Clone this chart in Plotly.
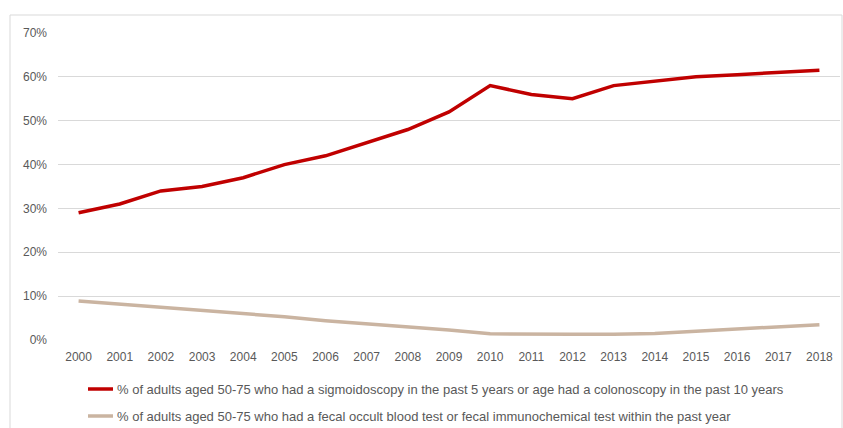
import plotly.graph_objects as go

years = [str(y) for y in range(2000, 2019)]
colonoscopy = [29, 31, 34, 35, 37, 40, 42, 45, 48, 52, 58, 56, 55, 58, 59, 60, 60.5, 61, 61.5]
fobt = [8.9, 8.2, 7.5, 6.7, 6.0, 5.3, 4.4, 3.7, 3.0, 2.3, 1.4, 1.3, 1.3, 1.3, 1.5, 2.0, 2.5, 3.0, 3.5]
tick_vals = [0, 10, 20, 30, 40, 50, 60, 70]
tick_text = [f"{v}%" for v in tick_vals]
names = [
    "% of adults aged 50-75 who had a sigmoidoscopy in the past 5 years or age had a colonoscopy in the past 10 years",
    "% of adults aged 50-75 who had a fecal occult blood test or fecal immunochemical test within the past year",
]
colors = ["#C00000", "#CAB4A1"]
series = [colonoscopy, fobt]

W, H = 843, 428
L, R, T, B = 58, 3, 33, 88

fig = go.Figure()
for name, vals, col in zip(names, series, colors):
    fig.add_trace(go.Scatter(x=years, y=vals, mode="lines", name=name,
                             line=dict(color=col, width=3.5), showlegend=False))

pw = W - L - R
ph = H - T - B
def px(x): return (x - L) / pw
def py(y): return (H - B - y) / ph

fig.add_shape(type="rect", xref="paper", yref="paper", x0=px(10), x1=px(842), y0=py(440), y1=py(15),
              line=dict(color="#D9D9D9", width=1), fillcolor="rgba(0,0,0,0)", layer="below")

# manual legend
legend_y = [389, 416]
for name, col, yy in zip(names, colors, legend_y):
    fig.add_shape(type="line", xref="paper", yref="paper", x0=px(88), x1=px(113),
                  y0=py(yy), y1=py(yy), line=dict(color=col, width=3.5))
    fig.add_annotation(xref="paper", yref="paper", x=px(115), y=py(yy), xanchor="left",
                       yanchor="middle", text=name, showarrow=False,
                       font=dict(size=13, color="#595959"))

font = "Liberation Sans, Arial, sans-serif"
fig.update_layout(
    width=W, height=H,
    margin=dict(l=L, r=R, t=T, b=B),
    plot_bgcolor="white", paper_bgcolor="white",
    font=dict(family=font, size=12, color="#595959"),
    xaxis=dict(type="category", range=[-0.5, 18.5], showgrid=False, zeroline=False,
               showline=False, ticks="", tickfont=dict(size=12, color="#595959"), ticklabelstandoff=8),
    yaxis=dict(range=[0, 70], tickvals=tick_vals, ticktext=tick_text, showgrid=True,
               gridcolor="#D9D9D9", gridwidth=1, zeroline=False, showline=False,
               tickfont=dict(size=12, color="#595959"), ticklabelstandoff=10),
    showlegend=False,
)
fig.write_html("out.html")
